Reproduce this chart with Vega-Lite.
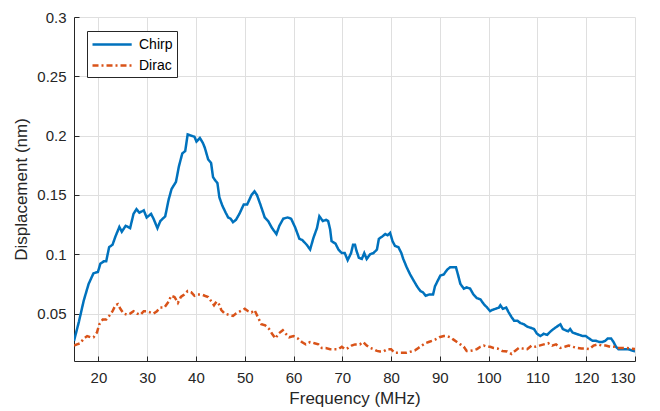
{
  "$schema": "https://vega.github.io/schema/vega-lite/v6.json",
  "width": 561,
  "height": 344,
  "autosize": "none",
  "padding": {"left": 74, "top": 17, "right": 25, "bottom": 50},
  "background": "white",
  "config": {
    "font": "Liberation Sans",
    "view": {"stroke": null},
    "axis": {
      "labelFont": "Liberation Sans",
      "titleFont": "Liberation Sans",
      "labelFontSize": 15,
      "titleFontSize": 17,
      "titleFontWeight": "normal",
      "labelColor": "#262626",
      "titleColor": "#262626",
      "domainColor": "#262626",
      "tickColor": "#262626",
      "gridColor": "#dfdfdf",
      "gridWidth": 1
    }
  },
  "data": {"values": [
    {"s":"Chirp","f":15.0,"d":0.027},{"s":"Chirp","f":16.0,"d":0.043},{"s":"Chirp","f":17.0,"d":0.061},{"s":"Chirp","f":18.0,"d":0.075},{"s":"Chirp","f":19.0,"d":0.084},{"s":"Chirp","f":19.9,"d":0.085},{"s":"Chirp","f":20.4,"d":0.092},{"s":"Chirp","f":21.1,"d":0.094},{"s":"Chirp","f":21.6,"d":0.094},{"s":"Chirp","f":22.2,"d":0.106},{"s":"Chirp","f":22.9,"d":0.108},{"s":"Chirp","f":23.5,"d":0.115},{"s":"Chirp","f":24.3,"d":0.123},{"s":"Chirp","f":24.8,"d":0.119},{"s":"Chirp","f":25.6,"d":0.124},{"s":"Chirp","f":26.5,"d":0.122},{"s":"Chirp","f":27.2,"d":0.134},{"s":"Chirp","f":27.8,"d":0.138},{"s":"Chirp","f":28.4,"d":0.135},{"s":"Chirp","f":29.3,"d":0.137},{"s":"Chirp","f":29.9,"d":0.131},{"s":"Chirp","f":30.8,"d":0.134},{"s":"Chirp","f":31.3,"d":0.130},{"s":"Chirp","f":32.1,"d":0.122},{"s":"Chirp","f":32.7,"d":0.128},{"s":"Chirp","f":33.7,"d":0.132},{"s":"Chirp","f":34.4,"d":0.146},{"s":"Chirp","f":35.0,"d":0.155},{"s":"Chirp","f":35.9,"d":0.161},{"s":"Chirp","f":36.5,"d":0.174},{"s":"Chirp","f":37.2,"d":0.185},{"s":"Chirp","f":37.8,"d":0.187},{"s":"Chirp","f":38.3,"d":0.201},{"s":"Chirp","f":39.0,"d":0.200},{"s":"Chirp","f":39.7,"d":0.199},{"s":"Chirp","f":40.1,"d":0.195},{"s":"Chirp","f":40.8,"d":0.198},{"s":"Chirp","f":41.4,"d":0.194},{"s":"Chirp","f":41.8,"d":0.190},{"s":"Chirp","f":42.5,"d":0.180},{"s":"Chirp","f":43.1,"d":0.177},{"s":"Chirp","f":43.5,"d":0.165},{"s":"Chirp","f":44.0,"d":0.162},{"s":"Chirp","f":44.4,"d":0.160},{"s":"Chirp","f":44.8,"d":0.148},{"s":"Chirp","f":45.4,"d":0.141},{"s":"Chirp","f":46.1,"d":0.135},{"s":"Chirp","f":46.6,"d":0.131},{"s":"Chirp","f":47.1,"d":0.130},{"s":"Chirp","f":47.6,"d":0.127},{"s":"Chirp","f":48.2,"d":0.129},{"s":"Chirp","f":48.9,"d":0.134},{"s":"Chirp","f":49.8,"d":0.142},{"s":"Chirp","f":50.5,"d":0.142},{"s":"Chirp","f":51.4,"d":0.150},{"s":"Chirp","f":52.0,"d":0.153},{"s":"Chirp","f":52.5,"d":0.150},{"s":"Chirp","f":53.2,"d":0.142},{"s":"Chirp","f":54.1,"d":0.131},{"s":"Chirp","f":54.8,"d":0.128},{"s":"Chirp","f":55.6,"d":0.122},{"s":"Chirp","f":56.5,"d":0.117},{"s":"Chirp","f":57.1,"d":0.124},{"s":"Chirp","f":57.9,"d":0.130},{"s":"Chirp","f":58.8,"d":0.131},{"s":"Chirp","f":59.5,"d":0.130},{"s":"Chirp","f":60.3,"d":0.123},{"s":"Chirp","f":61.2,"d":0.113},{"s":"Chirp","f":61.8,"d":0.112},{"s":"Chirp","f":62.7,"d":0.108},{"s":"Chirp","f":63.4,"d":0.104},{"s":"Chirp","f":64.1,"d":0.114},{"s":"Chirp","f":64.8,"d":0.122},{"s":"Chirp","f":65.3,"d":0.132},{"s":"Chirp","f":66.0,"d":0.128},{"s":"Chirp","f":66.7,"d":0.129},{"s":"Chirp","f":67.1,"d":0.128},{"s":"Chirp","f":67.5,"d":0.121},{"s":"Chirp","f":67.8,"d":0.111},{"s":"Chirp","f":68.6,"d":0.109},{"s":"Chirp","f":69.2,"d":0.104},{"s":"Chirp","f":69.9,"d":0.101},{"s":"Chirp","f":70.5,"d":0.101},{"s":"Chirp","f":71.1,"d":0.095},{"s":"Chirp","f":71.8,"d":0.101},{"s":"Chirp","f":72.2,"d":0.108},{"s":"Chirp","f":72.6,"d":0.108},{"s":"Chirp","f":72.9,"d":0.103},{"s":"Chirp","f":73.4,"d":0.097},{"s":"Chirp","f":74.0,"d":0.096},{"s":"Chirp","f":74.5,"d":0.101},{"s":"Chirp","f":75.0,"d":0.096},{"s":"Chirp","f":75.7,"d":0.100},{"s":"Chirp","f":76.4,"d":0.101},{"s":"Chirp","f":77.1,"d":0.104},{"s":"Chirp","f":77.5,"d":0.113},{"s":"Chirp","f":78.2,"d":0.115},{"s":"Chirp","f":78.8,"d":0.117},{"s":"Chirp","f":79.3,"d":0.116},{"s":"Chirp","f":79.8,"d":0.118},{"s":"Chirp","f":80.3,"d":0.111},{"s":"Chirp","f":80.8,"d":0.107},{"s":"Chirp","f":81.5,"d":0.106},{"s":"Chirp","f":82.1,"d":0.101},{"s":"Chirp","f":82.5,"d":0.096},{"s":"Chirp","f":83.2,"d":0.089},{"s":"Chirp","f":83.9,"d":0.083},{"s":"Chirp","f":84.6,"d":0.078},{"s":"Chirp","f":85.3,"d":0.073},{"s":"Chirp","f":86.0,"d":0.069},{"s":"Chirp","f":86.5,"d":0.068},{"s":"Chirp","f":87.1,"d":0.065},{"s":"Chirp","f":87.8,"d":0.066},{"s":"Chirp","f":88.6,"d":0.066},{"s":"Chirp","f":89.0,"d":0.073},{"s":"Chirp","f":89.6,"d":0.078},{"s":"Chirp","f":90.1,"d":0.082},{"s":"Chirp","f":90.8,"d":0.083},{"s":"Chirp","f":91.5,"d":0.087},{"s":"Chirp","f":92.1,"d":0.089},{"s":"Chirp","f":92.8,"d":0.089},{"s":"Chirp","f":93.3,"d":0.089},{"s":"Chirp","f":93.7,"d":0.083},{"s":"Chirp","f":94.2,"d":0.075},{"s":"Chirp","f":94.9,"d":0.071},{"s":"Chirp","f":95.5,"d":0.072},{"s":"Chirp","f":96.2,"d":0.071},{"s":"Chirp","f":96.9,"d":0.066},{"s":"Chirp","f":97.6,"d":0.063},{"s":"Chirp","f":98.3,"d":0.062},{"s":"Chirp","f":99.0,"d":0.058},{"s":"Chirp","f":99.7,"d":0.055},{"s":"Chirp","f":100.3,"d":0.052},{"s":"Chirp","f":100.7,"d":0.053},{"s":"Chirp","f":101.4,"d":0.054},{"s":"Chirp","f":102.1,"d":0.055},{"s":"Chirp","f":102.4,"d":0.057},{"s":"Chirp","f":102.9,"d":0.054},{"s":"Chirp","f":103.6,"d":0.055},{"s":"Chirp","f":104.1,"d":0.051},{"s":"Chirp","f":104.7,"d":0.047},{"s":"Chirp","f":105.2,"d":0.044},{"s":"Chirp","f":105.9,"d":0.044},{"s":"Chirp","f":106.5,"d":0.042},{"s":"Chirp","f":107.2,"d":0.041},{"s":"Chirp","f":107.9,"d":0.039},{"s":"Chirp","f":108.6,"d":0.038},{"s":"Chirp","f":109.3,"d":0.037},{"s":"Chirp","f":109.9,"d":0.033},{"s":"Chirp","f":110.6,"d":0.031},{"s":"Chirp","f":111.3,"d":0.033},{"s":"Chirp","f":112.0,"d":0.032},{"s":"Chirp","f":112.7,"d":0.035},{"s":"Chirp","f":113.3,"d":0.037},{"s":"Chirp","f":114.0,"d":0.039},{"s":"Chirp","f":114.7,"d":0.041},{"s":"Chirp","f":115.2,"d":0.037},{"s":"Chirp","f":115.7,"d":0.036},{"s":"Chirp","f":116.3,"d":0.035},{"s":"Chirp","f":116.7,"d":0.037},{"s":"Chirp","f":117.2,"d":0.034},{"s":"Chirp","f":117.9,"d":0.033},{"s":"Chirp","f":118.6,"d":0.032},{"s":"Chirp","f":119.3,"d":0.031},{"s":"Chirp","f":119.9,"d":0.031},{"s":"Chirp","f":120.6,"d":0.029},{"s":"Chirp","f":121.3,"d":0.027},{"s":"Chirp","f":122.0,"d":0.027},{"s":"Chirp","f":122.7,"d":0.026},{"s":"Chirp","f":123.3,"d":0.026},{"s":"Chirp","f":123.9,"d":0.027},{"s":"Chirp","f":124.4,"d":0.029},{"s":"Chirp","f":125.1,"d":0.029},{"s":"Chirp","f":125.6,"d":0.026},{"s":"Chirp","f":126.1,"d":0.022},{"s":"Chirp","f":126.6,"d":0.020},{"s":"Chirp","f":127.3,"d":0.020},{"s":"Chirp","f":128.0,"d":0.020},{"s":"Chirp","f":128.6,"d":0.020},{"s":"Chirp","f":129.3,"d":0.019},{"s":"Chirp","f":130.0,"d":0.018},
    {"s":"Dirac","f":15.0,"d":0.023},{"s":"Dirac","f":15.6,"d":0.024},{"s":"Dirac","f":16.3,"d":0.025},{"s":"Dirac","f":17.0,"d":0.029},{"s":"Dirac","f":17.7,"d":0.031},{"s":"Dirac","f":18.4,"d":0.030},{"s":"Dirac","f":19.0,"d":0.030},{"s":"Dirac","f":19.7,"d":0.034},{"s":"Dirac","f":20.2,"d":0.041},{"s":"Dirac","f":20.9,"d":0.045},{"s":"Dirac","f":21.6,"d":0.045},{"s":"Dirac","f":22.2,"d":0.048},{"s":"Dirac","f":22.9,"d":0.052},{"s":"Dirac","f":23.5,"d":0.057},{"s":"Dirac","f":24.0,"d":0.058},{"s":"Dirac","f":24.5,"d":0.054},{"s":"Dirac","f":25.2,"d":0.050},{"s":"Dirac","f":25.9,"d":0.049},{"s":"Dirac","f":26.5,"d":0.050},{"s":"Dirac","f":27.2,"d":0.052},{"s":"Dirac","f":27.9,"d":0.050},{"s":"Dirac","f":28.6,"d":0.049},{"s":"Dirac","f":29.3,"d":0.052},{"s":"Dirac","f":29.9,"d":0.052},{"s":"Dirac","f":30.6,"d":0.051},{"s":"Dirac","f":31.3,"d":0.050},{"s":"Dirac","f":32.0,"d":0.052},{"s":"Dirac","f":32.7,"d":0.055},{"s":"Dirac","f":33.5,"d":0.055},{"s":"Dirac","f":34.4,"d":0.060},{"s":"Dirac","f":34.9,"d":0.065},{"s":"Dirac","f":35.6,"d":0.064},{"s":"Dirac","f":36.3,"d":0.059},{"s":"Dirac","f":36.9,"d":0.064},{"s":"Dirac","f":37.6,"d":0.066},{"s":"Dirac","f":38.3,"d":0.069},{"s":"Dirac","f":39.0,"d":0.068},{"s":"Dirac","f":39.7,"d":0.065},{"s":"Dirac","f":40.3,"d":0.066},{"s":"Dirac","f":41.2,"d":0.066},{"s":"Dirac","f":41.8,"d":0.065},{"s":"Dirac","f":42.5,"d":0.064},{"s":"Dirac","f":43.2,"d":0.060},{"s":"Dirac","f":43.7,"d":0.057},{"s":"Dirac","f":44.2,"d":0.060},{"s":"Dirac","f":44.6,"d":0.059},{"s":"Dirac","f":45.2,"d":0.053},{"s":"Dirac","f":45.9,"d":0.050},{"s":"Dirac","f":46.7,"d":0.049},{"s":"Dirac","f":47.6,"d":0.048},{"s":"Dirac","f":48.2,"d":0.050},{"s":"Dirac","f":49.1,"d":0.052},{"s":"Dirac","f":50.0,"d":0.054},{"s":"Dirac","f":50.7,"d":0.052},{"s":"Dirac","f":51.4,"d":0.051},{"s":"Dirac","f":52.0,"d":0.053},{"s":"Dirac","f":52.7,"d":0.047},{"s":"Dirac","f":53.4,"d":0.041},{"s":"Dirac","f":54.2,"d":0.040},{"s":"Dirac","f":55.0,"d":0.037},{"s":"Dirac","f":55.6,"d":0.033},{"s":"Dirac","f":56.3,"d":0.029},{"s":"Dirac","f":56.9,"d":0.033},{"s":"Dirac","f":57.8,"d":0.036},{"s":"Dirac","f":58.4,"d":0.033},{"s":"Dirac","f":59.1,"d":0.030},{"s":"Dirac","f":60.0,"d":0.031},{"s":"Dirac","f":60.9,"d":0.029},{"s":"Dirac","f":61.7,"d":0.026},{"s":"Dirac","f":62.5,"d":0.024},{"s":"Dirac","f":63.4,"d":0.026},{"s":"Dirac","f":64.3,"d":0.025},{"s":"Dirac","f":65.1,"d":0.024},{"s":"Dirac","f":65.8,"d":0.021},{"s":"Dirac","f":66.6,"d":0.021},{"s":"Dirac","f":67.5,"d":0.020},{"s":"Dirac","f":68.4,"d":0.020},{"s":"Dirac","f":69.2,"d":0.020},{"s":"Dirac","f":69.9,"d":0.022},{"s":"Dirac","f":70.5,"d":0.020},{"s":"Dirac","f":71.2,"d":0.021},{"s":"Dirac","f":71.9,"d":0.023},{"s":"Dirac","f":72.6,"d":0.024},{"s":"Dirac","f":73.6,"d":0.024},{"s":"Dirac","f":74.3,"d":0.026},{"s":"Dirac","f":75.0,"d":0.023},{"s":"Dirac","f":75.7,"d":0.021},{"s":"Dirac","f":76.4,"d":0.020},{"s":"Dirac","f":77.1,"d":0.0185},{"s":"Dirac","f":77.7,"d":0.018},{"s":"Dirac","f":78.4,"d":0.018},{"s":"Dirac","f":79.3,"d":0.020},{"s":"Dirac","f":80.0,"d":0.020},{"s":"Dirac","f":80.7,"d":0.017},{"s":"Dirac","f":81.5,"d":0.017},{"s":"Dirac","f":82.3,"d":0.017},{"s":"Dirac","f":83.2,"d":0.017},{"s":"Dirac","f":84.1,"d":0.018},{"s":"Dirac","f":84.9,"d":0.019},{"s":"Dirac","f":85.6,"d":0.021},{"s":"Dirac","f":86.3,"d":0.023},{"s":"Dirac","f":87.0,"d":0.025},{"s":"Dirac","f":87.7,"d":0.026},{"s":"Dirac","f":88.4,"d":0.027},{"s":"Dirac","f":89.0,"d":0.028},{"s":"Dirac","f":89.9,"d":0.030},{"s":"Dirac","f":90.8,"d":0.031},{"s":"Dirac","f":91.4,"d":0.031},{"s":"Dirac","f":92.1,"d":0.030},{"s":"Dirac","f":92.8,"d":0.028},{"s":"Dirac","f":93.5,"d":0.026},{"s":"Dirac","f":94.2,"d":0.024},{"s":"Dirac","f":94.9,"d":0.022},{"s":"Dirac","f":95.5,"d":0.0185},{"s":"Dirac","f":96.2,"d":0.0185},{"s":"Dirac","f":96.9,"d":0.019},{"s":"Dirac","f":97.6,"d":0.020},{"s":"Dirac","f":98.3,"d":0.022},{"s":"Dirac","f":99.0,"d":0.023},{"s":"Dirac","f":99.7,"d":0.022},{"s":"Dirac","f":100.3,"d":0.022},{"s":"Dirac","f":101.0,"d":0.021},{"s":"Dirac","f":101.8,"d":0.0205},{"s":"Dirac","f":102.8,"d":0.0185},{"s":"Dirac","f":103.8,"d":0.018},{"s":"Dirac","f":104.7,"d":0.016},{"s":"Dirac","f":105.4,"d":0.0185},{"s":"Dirac","f":106.2,"d":0.021},{"s":"Dirac","f":107.0,"d":0.0205},{"s":"Dirac","f":107.9,"d":0.020},{"s":"Dirac","f":108.8,"d":0.023},{"s":"Dirac","f":109.6,"d":0.022},{"s":"Dirac","f":110.4,"d":0.023},{"s":"Dirac","f":111.3,"d":0.024},{"s":"Dirac","f":112.2,"d":0.025},{"s":"Dirac","f":113.0,"d":0.023},{"s":"Dirac","f":113.8,"d":0.024},{"s":"Dirac","f":114.7,"d":0.021},{"s":"Dirac","f":115.6,"d":0.022},{"s":"Dirac","f":116.4,"d":0.023},{"s":"Dirac","f":117.2,"d":0.022},{"s":"Dirac","f":118.1,"d":0.021},{"s":"Dirac","f":119.0,"d":0.0205},{"s":"Dirac","f":119.8,"d":0.0205},{"s":"Dirac","f":120.6,"d":0.020},{"s":"Dirac","f":121.5,"d":0.023},{"s":"Dirac","f":122.4,"d":0.024},{"s":"Dirac","f":123.2,"d":0.023},{"s":"Dirac","f":124.0,"d":0.023},{"s":"Dirac","f":124.9,"d":0.022},{"s":"Dirac","f":125.8,"d":0.022},{"s":"Dirac","f":126.6,"d":0.021},{"s":"Dirac","f":127.4,"d":0.021},{"s":"Dirac","f":128.3,"d":0.021},{"s":"Dirac","f":129.2,"d":0.0205},{"s":"Dirac","f":130.0,"d":0.020}
  ]},
  "mark": {"type": "line", "strokeWidth": 2.5, "clip": true},
  "encoding": {
    "x": {
      "field": "f", "type": "quantitative", "title": "Frequency (MHz)",
      "scale": {"domain": [15, 130], "nice": false, "zero": false},
      "axis": {"values": [20,30,40,50,60,70,80,90,100,110,120,130], "tickSize": -5, "labelPadding": 14, "titlePadding": 5, "grid": true}
    },
    "y": {
      "field": "d", "type": "quantitative", "title": "Displacement (nm)",
      "scale": {"domain": [0.01, 0.3], "nice": false, "zero": false},
      "axis": {"values": [0.05,0.1,0.15,0.2,0.25,0.3], "format": ".2~f", "tickSize": -5, "labelPadding": 13, "titlePadding": 6, "grid": true}
    },
    "color": {
      "field": "s", "type": "nominal",
      "scale": {"domain": ["Chirp", "Dirac"], "range": ["#0072BD", "#D95319"]},
      "legend": {
        "title": null, "orient": "none", "legendX": 13, "legendY": 14,
        "fillColor": "white", "strokeColor": "#262626", "padding": 4,
        "labelFontSize": 14, "labelColor": "#000000", "labelFont": "Liberation Sans",
        "symbolType": "M-1,0H3.9", "symbolSize": 256, "symbolStrokeWidth": 2.5,
        "labelOffset": 29, "rowPadding": 4, "cornerRadius": 0
      }
    },
    "strokeDash": {
      "field": "s", "type": "nominal",
      "scale": {"domain": ["Chirp", "Dirac"], "range": [[1, 0], [6, 3, 2, 3]]},
      "legend": {
        "title": null, "orient": "none", "legendX": 13, "legendY": 14,
        "fillColor": "white", "strokeColor": "#262626", "padding": 4,
        "labelFontSize": 14, "labelColor": "#000000", "labelFont": "Liberation Sans",
        "symbolType": "M-1,0H3.9", "symbolSize": 256, "symbolStrokeWidth": 2.5,
        "labelOffset": 29, "rowPadding": 4, "cornerRadius": 0
      }
    }
  }
}
